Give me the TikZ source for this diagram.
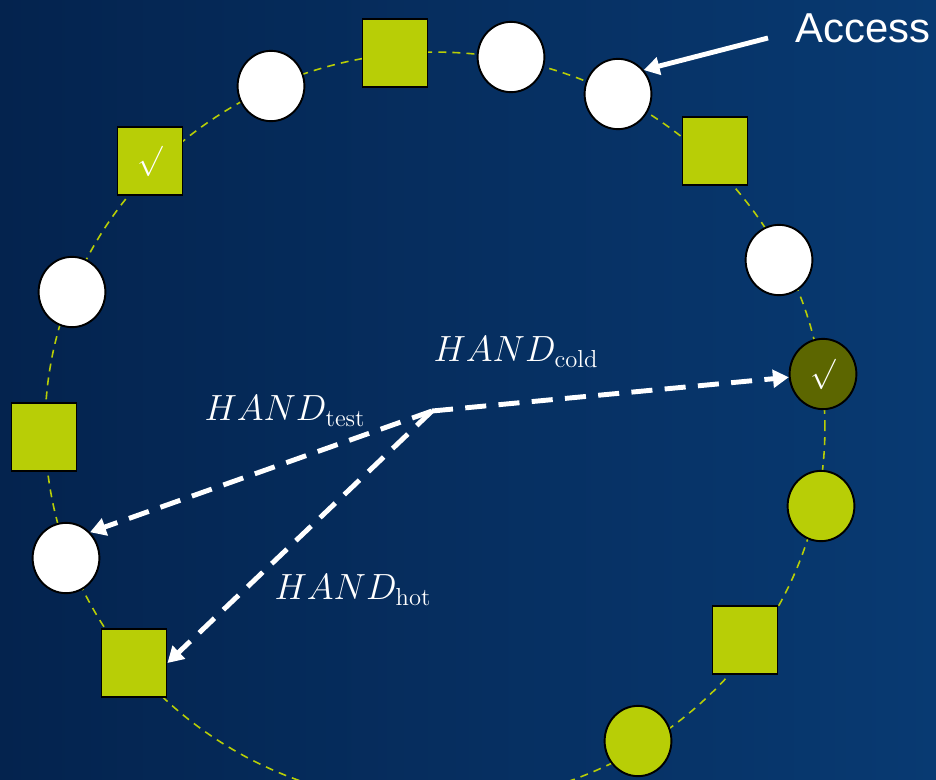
\documentclass[tikz,border=0pt]{standalone}
\usepackage{fontspec}
\newfontfamily\arialfont{Liberation Sans}
\usepackage{tikz}
\usetikzlibrary{arrows.meta}
\usetikzlibrary{shapes.geometric}
\definecolor{bgl}{RGB}{4, 35, 78}
\definecolor{bgr}{RGB}{8, 58, 114}
\definecolor{lime}{RGB}{184, 206, 6}
\definecolor{olive}{RGB}{92, 102, 0}

\begin{document}
\begin{tikzpicture}[x=0.02cm, y=-0.02cm,
        slot/.style={ellipse, draw, line width=1.1pt, minimum width=38pt, minimum height=40pt, inner sep=0pt},
        free/.style={slot, fill=white},
        used/.style={slot, fill=lime},
        box/.style={rectangle, draw, line width=1.1pt, fill=lime, minimum width=37pt, minimum height=38.5pt, inner sep=0pt},
        ring/.style={lime, line width=0.9pt, dash pattern=on 4.5pt off 3.5pt},
        hand/.style={white, line width=2.8pt, dash pattern=on 12pt off 7pt, -{Triangle[width=10pt, length=9pt]}},
        handlbl/.style={white, font=\fontsize{20}{24}\selectfont},
        ok/.style={text=white, font=\fontsize{18}{20}\selectfont}]
        \useasboundingbox (0,0) rectangle (936,779);
        \clip (0,0) rectangle (936,779);
        \shade[left color=bgl, right color=bgr] (0,0) rectangle (936,779);
        % the clock ring
        \draw[ring] (435,428) ellipse [x radius=7.8cm, y radius=7.52cm];
        % pages on the ring
        \node[box] (s1) at (395,53) {};
        \node[free] (p1) at (271,86) {};
        \node[free] (p2) at (511,57) {};
        \node[free] (acc) at (618,94) {};
        \node[box] (s2) at (715,151) {};
        \node[free] (p3) at (779,260) {};
        \node[slot, fill=olive, ok] (cold) at (823,374) {$\surd$};
        \node[used] (u1) at (821,506) {};
        \node[box] (s3) at (745,640) {};
        \node[used] (u2) at (638,741) {};
        \node[box] (hot) at (134,663) {};
        \node[free] (test) at (66,558) {};
        \node[box] (s4) at (44,437) {};
        \node[free] (p4) at (72,292) {};
        \node[box, ok] (chk) at (150,161) {$\surd$};
        % the three hands
        \coordinate (hub) at (432,411);
        \draw[hand] (hub) -- (cold);
        \draw[hand] (hub) -- (test.47);
        \draw[hand] (hub) -- (hot.east);
        \node[handlbl] (lcold) at (516,352) {$HAND_{\mathrm{cold}}$};
        \node[handlbl] (ltest) at (285,411) {$HAND_{\mathrm{test}}$};
        \node[handlbl] (lhot) at (353,590) {$HAND_{\mathrm{hot}}$};
        % access
        \node[white, anchor=base west, inner sep=0pt, font=\arialfont\fontsize{23.8}{28}\selectfont] (accesslbl) at (795,42) {Access};
        \coordinate (acctail) at (768,38);
        \draw[white, line width=2.8pt, -{Triangle[width=10pt, length=9pt]}] (acctail) -- (acc.43);
    \end{tikzpicture}
\end{document}
